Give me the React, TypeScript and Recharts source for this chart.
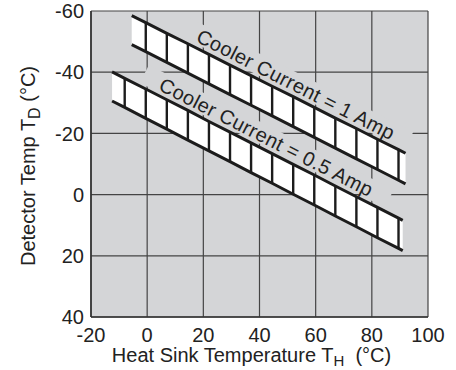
import {
  ComposedChart, Area, Line, XAxis, YAxis, CartesianGrid,
  ReferenceLine, ReferenceDot, Label,
} from 'recharts'

const xTicks = [-20, 0, 20, 40, 60, 80, 100]
const yTicks = [-60, -40, -20, 0, 20, 40]

// 1 Amp band: read at both ends and at every hatch line
const amp1X     = [-5.5, -0.5, 7, 14.5, 22, 29.5, 37, 44.5, 52, 59.5, 67, 74.5, 82, 89.5, 92]
const amp1Upper = [-58.5, -56.2, -52.7, -49.3, -45.8, -42.3, -38.9, -35.4, -32.0, -28.5, -25.0, -21.6, -18.1, -14.7, -13.5]
const amp1Lower = [-49.0, -46.7, -43.2, -39.7, -36.2, -32.7, -29.2, -25.7, -22.2, -18.7, -15.2, -11.7, -8.2, -4.7, -3.5]

// 0.5 Amp band
const amp05X     = [-12.5, -8, -0.5, 7, 14.5, 22, 29.5, 37, 44.5, 52, 59.5, 67, 74.5, 82, 89.5, 91]
const amp05Upper = [-40.1, -38.0, -34.5, -31.0, -27.5, -23.9, -20.4, -16.9, -13.4, -9.9, -6.4, -2.8, 0.7, 4.2, 7.7, 8.4]
const amp05Lower = [-30.6, -28.5, -24.9, -21.4, -17.8, -14.3, -10.8, -7.2, -3.7, -0.1, 3.4, 7.0, 10.5, 14.1, 17.6, 18.3]

const labelText = ['Cooler Current = 1 Amp', 'Cooler Current = 0.5 Amp']
const labelX = [51, 40.5]
const labelY = [-32.5, -15.3]

const BG = '#d4d5d7'
const INK = '#1c1c1c'
const FONT = '"Liberation Sans", Arial, Helvetica, sans-serif'

const makeBand = (xs: number[], hi: number[], lo: number[]) =>
  xs.map((x, i) => ({ x, hi: hi[i], lo: lo[i], band: [lo[i], hi[i]] }))

const amp1 = makeBand(amp1X, amp1Upper, amp1Lower)
const amp05 = makeBand(amp05X, amp05Upper, amp05Lower)

function BandLabel({ cx, cy, text }: any) {
  const w = text.length * 11.2 + 6
  return (
    <g transform={`translate(${cx},${cy}) rotate(27)`}>
      <rect x={-w / 2} y={-23} width={w} height={20} fill={BG} />
      <text x={0} y={-5} textAnchor="middle" fontSize={20} letterSpacing={0.4} fontFamily={FONT} fill="#222">
        {text}
      </text>
    </g>
  )
}

function XTitle({ viewBox }: any) {
  const { x, y, width } = viewBox
  return (
    <text x={x + width / 2 - 8} y={y + 45} textAnchor="middle" fontSize={20} fontFamily={FONT} fill="#222">
      Heat Sink Temperature T<tspan dy={4} fontSize={15}>H</tspan><tspan dy={-4}>{'\u00a0\u00a0(°C)'}</tspan>
    </text>
  )
}

function YTitle({ viewBox }: any) {
  const { x, y, height } = viewBox
  const cx = x + 4
  const cy = y + height / 2 + 2
  return (
    <text
      x={cx} y={cy} transform={`rotate(-90, ${cx}, ${cy})`}
      textAnchor="middle" fontSize={20} fontFamily={FONT} fill="#222"
    >
      Detector Temp T<tspan dy={5} fontSize={16}>D</tspan><tspan dy={-5}>{'\u00a0(°C)'}</tspan>
    </text>
  )
}

const tickStyle = { fontSize: 20, fill: '#222', fontFamily: FONT }

export default function App() {
  return (
    <div style={{ position: 'absolute', left: 0, top: 0, width: 456, height: 370, background: '#fff' }}>
      <ComposedChart width={456} height={370} margin={{ top: 11, right: 28, bottom: 23, left: 31 }}>
        <CartesianGrid fill={BG} fillOpacity={1} stroke="#444" strokeWidth={1.2} />
        <XAxis
          type="number" dataKey="x" domain={[-20, 100]} ticks={xTicks} interval={0}
          height={30} tickLine={false} tickSize={0} tickMargin={11}
          axisLine={{ stroke: '#333', strokeWidth: 1.6 }} tick={tickStyle}
          allowDataOverflow
        >
          <Label content={XTitle} />
        </XAxis>
        <YAxis
          type="number" domain={[-60, 40]} ticks={yTicks} interval={0} reversed
          width={60} tickLine={false} tickSize={0} tickMargin={7}
          axisLine={{ stroke: '#333', strokeWidth: 1.6 }} tick={tickStyle}
          allowDataOverflow
        >
          <Label content={YTitle} />
        </YAxis>

        <Area data={amp1} dataKey="band" type="linear" fill="#fff" fillOpacity={1} stroke="none" isAnimationActive={false} />
        <Area data={amp05} dataKey="band" type="linear" fill="#fff" fillOpacity={1} stroke="none" isAnimationActive={false} />

        {amp1.slice(1, -1).map((d) => (
          <ReferenceLine key={'a' + d.x} segment={[{ x: d.x, y: d.hi }, { x: d.x, y: d.lo }]} stroke={INK} strokeWidth={2.4} />
        ))}
        {amp05.slice(1, -1).map((d) => (
          <ReferenceLine key={'b' + d.x} segment={[{ x: d.x, y: d.hi }, { x: d.x, y: d.lo }]} stroke={INK} strokeWidth={2.4} />
        ))}

        <Line data={amp1} dataKey="hi" type="linear" stroke={INK} strokeWidth={3} dot={false} activeDot={false} isAnimationActive={false} />
        <Line data={amp1} dataKey="lo" type="linear" stroke={INK} strokeWidth={3} dot={false} activeDot={false} isAnimationActive={false} />
        <Line data={amp05} dataKey="hi" type="linear" stroke={INK} strokeWidth={3} dot={false} activeDot={false} isAnimationActive={false} />
        <Line data={amp05} dataKey="lo" type="linear" stroke={INK} strokeWidth={3} dot={false} activeDot={false} isAnimationActive={false} />

        {labelText.map((t, i) => (
          <ReferenceDot
            key={t} x={labelX[i]} y={labelY[i]} r={0}
            shape={(p: any) => <BandLabel {...p} text={t} />}
          />
        ))}
      </ComposedChart>
    </div>
  )
}
